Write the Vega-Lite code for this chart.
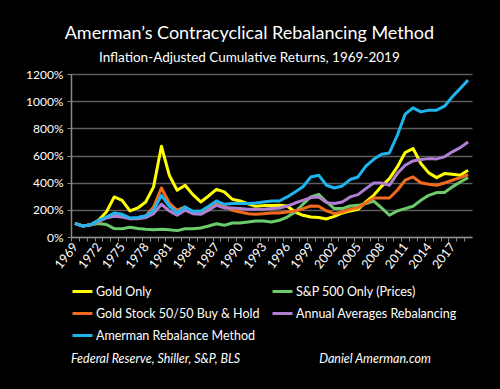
{
  "$schema": "https://vega.github.io/schema/vega-lite/v6.json",
  "width": 401,
  "height": 163,
  "autosize": {"type": "none"},
  "padding": {"left": 71, "top": 74, "right": 28, "bottom": 152},
  "background": "black",
  "title": {
    "text": "Amerman’s Contracyclical Rebalancing Method",
    "subtitle": "Inflation-Adjusted Cumulative Returns, 1969-2019",
    "anchor": "middle",
    "frame": "bounds",
    "color": "white",
    "subtitleColor": "white",
    "font": "Lato",
    "subtitleFont": "Lato",
    "fontSize": 18,
    "subtitleFontSize": 13.5,
    "fontWeight": "normal",
    "subtitlePadding": 8,
    "offset": 4
  },
  "data": {
    "values": [
      {"year": 1969, "g": 100, "sp": 100, "gs": 100, "aa": 100, "am": 100},
      {"year": 1970, "g": 82, "sp": 80, "gs": 80, "aa": 80, "am": 80},
      {"year": 1971, "g": 90, "sp": 90, "gs": 90, "aa": 90, "am": 90},
      {"year": 1972, "g": 123, "sp": 100, "gs": 112, "aa": 115, "am": 122},
      {"year": 1973, "g": 184, "sp": 92, "gs": 145, "aa": 140, "am": 147},
      {"year": 1974, "g": 295, "sp": 62, "gs": 167, "aa": 152, "am": 177},
      {"year": 1975, "g": 270, "sp": 61, "gs": 160, "aa": 147, "am": 167},
      {"year": 1976, "g": 192, "sp": 72, "gs": 135, "aa": 135, "am": 140},
      {"year": 1977, "g": 214, "sp": 62, "gs": 138, "aa": 135, "am": 143},
      {"year": 1978, "g": 258, "sp": 57, "gs": 155, "aa": 143, "am": 157},
      {"year": 1979, "g": 369, "sp": 54, "gs": 221, "aa": 172, "am": 197},
      {"year": 1980, "g": 668, "sp": 57, "gs": 361, "aa": 241, "am": 307},
      {"year": 1981, "g": 455, "sp": 54, "gs": 250, "aa": 192, "am": 228},
      {"year": 1982, "g": 344, "sp": 47, "gs": 197, "aa": 160, "am": 179},
      {"year": 1983, "g": 381, "sp": 61, "gs": 221, "aa": 197, "am": 221},
      {"year": 1984, "g": 312, "sp": 61, "gs": 184, "aa": 172, "am": 189},
      {"year": 1985, "g": 258, "sp": 66, "gs": 179, "aa": 167, "am": 189},
      {"year": 1986, "g": 302, "sp": 81, "gs": 209, "aa": 197, "am": 226},
      {"year": 1987, "g": 351, "sp": 98, "gs": 253, "aa": 233, "am": 265},
      {"year": 1988, "g": 332, "sp": 86, "gs": 228, "aa": 214, "am": 241},
      {"year": 1989, "g": 278, "sp": 103, "gs": 197, "aa": 214, "am": 246},
      {"year": 1990, "g": 265, "sp": 103, "gs": 184, "aa": 209, "am": 246},
      {"year": 1991, "g": 245, "sp": 110, "gs": 172, "aa": 204, "am": 246},
      {"year": 1992, "g": 226, "sp": 118, "gs": 167, "aa": 204, "am": 250},
      {"year": 1993, "g": 231, "sp": 118, "gs": 172, "aa": 204, "am": 258},
      {"year": 1994, "g": 231, "sp": 110, "gs": 177, "aa": 209, "am": 265},
      {"year": 1995, "g": 233, "sp": 123, "gs": 177, "aa": 214, "am": 265},
      {"year": 1996, "g": 228, "sp": 147, "gs": 184, "aa": 228, "am": 295},
      {"year": 1997, "g": 184, "sp": 184, "gs": 192, "aa": 250, "am": 332},
      {"year": 1998, "g": 160, "sp": 241, "gs": 209, "aa": 270, "am": 370},
      {"year": 1999, "g": 147, "sp": 295, "gs": 228, "aa": 290, "am": 442},
      {"year": 2000, "g": 143, "sp": 314, "gs": 226, "aa": 295, "am": 455},
      {"year": 2001, "g": 133, "sp": 258, "gs": 192, "aa": 253, "am": 381},
      {"year": 2002, "g": 152, "sp": 209, "gs": 172, "aa": 246, "am": 361},
      {"year": 2003, "g": 177, "sp": 209, "gs": 184, "aa": 258, "am": 376},
      {"year": 2004, "g": 192, "sp": 228, "gs": 204, "aa": 295, "am": 423},
      {"year": 2005, "g": 204, "sp": 233, "gs": 216, "aa": 312, "am": 442},
      {"year": 2006, "g": 258, "sp": 246, "gs": 250, "aa": 356, "am": 521},
      {"year": 2007, "g": 307, "sp": 265, "gs": 287, "aa": 398, "am": 572},
      {"year": 2008, "g": 373, "sp": 214, "gs": 287, "aa": 398, "am": 609},
      {"year": 2009, "g": 430, "sp": 160, "gs": 287, "aa": 381, "am": 619},
      {"year": 2010, "g": 516, "sp": 192, "gs": 344, "aa": 467, "am": 749},
      {"year": 2011, "g": 622, "sp": 209, "gs": 418, "aa": 528, "am": 904},
      {"year": 2012, "g": 651, "sp": 226, "gs": 442, "aa": 560, "am": 951},
      {"year": 2013, "g": 541, "sp": 270, "gs": 400, "aa": 570, "am": 921},
      {"year": 2014, "g": 472, "sp": 307, "gs": 388, "aa": 577, "am": 934},
      {"year": 2015, "g": 437, "sp": 327, "gs": 381, "aa": 575, "am": 934},
      {"year": 2016, "g": 467, "sp": 327, "gs": 398, "aa": 590, "am": 963},
      {"year": 2017, "g": 462, "sp": 369, "gs": 418, "aa": 627, "am": 1032},
      {"year": 2018, "g": 455, "sp": 405, "gs": 437, "aa": 658, "am": 1093},
      {"year": 2019, "g": 491, "sp": 437, "gs": 459, "aa": 700, "am": 1155}
    ]
  },
  "transform": [{"fold": ["g", "sp", "gs", "aa", "am"], "as": ["series", "value"]}],
  "mark": {"type": "line", "strokeWidth": 3, "strokeJoin": "round"},
  "encoding": {
    "x": {
      "field": "year",
      "type": "quantitative",
      "scale": {"domain": [1968.5, 2019.5], "nice": false, "zero": false},
      "axis": {
        "title": null,
        "grid": false,
        "values": [1969,1970,1971,1972,1973,1974,1975,1976,1977,1978,1979,1980,1981,1982,1983,1984,1985,1986,1987,1988,1989,1990,1991,1992,1993,1994,1995,1996,1997,1998,1999,2000,2001,2002,2003,2004,2005,2006,2007,2008,2009,2010,2011,2012,2013,2014,2015,2016,2017,2018,2019],
        "labelExpr": "(datum.value - 1969) % 3 == 0 ? '' + datum.value : ''",
        "labelAngle": -52,
        "labelAlign": "right",
        "labelBaseline": "middle",
        "labelOverlap": false,
        "labelFlush": false,
        "tickOffset": -3.9,
        "labelOffset": 3.9,
        "tickSize": 4,
        "labelPadding": 3,
        "labelFontSize": 12.5
      }
    },
    "y": {
      "field": "value",
      "type": "quantitative",
      "scale": {"domain": [0, 1200], "nice": false},
      "axis": {
        "title": null,
        "values": [0, 200, 400, 600, 800, 1000, 1200],
        "labelExpr": "datum.value + '%'",
        "grid": true,
        "tickSize": 4,
        "labelPadding": 4
      }
    },
    "color": {
      "field": "series",
      "type": "nominal",
      "scale": {
        "domain": ["g", "sp", "gs", "aa", "am"],
        "range": ["#FFFF00", "#6CCB6A", "#F26B1D", "#B07FD4", "#1FB4EE"]
      },
      "legend": {
        "orient": "bottom",
        "direction": "horizontal",
        "columns": 2,
        "symbolType": "stroke",
        "symbolStrokeWidth": 3,
        "symbolSize": 400,
        "labelOffset": 2,
        "labelExpr": "{'g': 'Gold Only', 'sp': 'S&P 500 Only (Prices)', 'gs': 'Gold Stock 50/50 Buy & Hold', 'aa': 'Annual Averages Rebalancing', 'am': 'Amerman Rebalance Method'}[datum.value]",
        "labelColor": "white",
        "labelFont": "Lato",
        "labelFontSize": 12.5,
        "labelLimit": 300,
        "rowPadding": 4,
        "columnPadding": 6,
        "offset": 9,
        "title": "Federal Reserve, Shiller, S&P, BLS\u00a0\u00a0\u00a0\u00a0\u00a0\u00a0\u00a0\u00a0\u00a0\u00a0\u00a0\u00a0\u00a0\u00a0\u00a0\u00a0\u00a0\u00a0\u00a0\u00a0\u00a0\u00a0\u00a0\u00a0\u00a0\u00a0\u00a0Daniel Amerman.com",
        "titleOrient": "bottom",
        "titleAnchor": "start",
        "titleColor": "white",
        "titleFont": "Lato",
        "titleFontStyle": "italic",
        "titleFontWeight": "normal",
        "titleFontSize": 12.5,
        "titlePadding": 11,
        "titleLimit": 500
      }
    }
  },
  "config": {
    "view": {"stroke": null},
    "axis": {
      "domainColor": "#8a8a8a",
      "tickColor": "#8a8a8a",
      "gridColor": "#5c5c5c",
      "gridWidth": 1.5,
      "domainWidth": 1.5,
      "labelColor": "white",
      "labelFont": "Lato",
      "labelFontSize": 12
    }
  }
}
